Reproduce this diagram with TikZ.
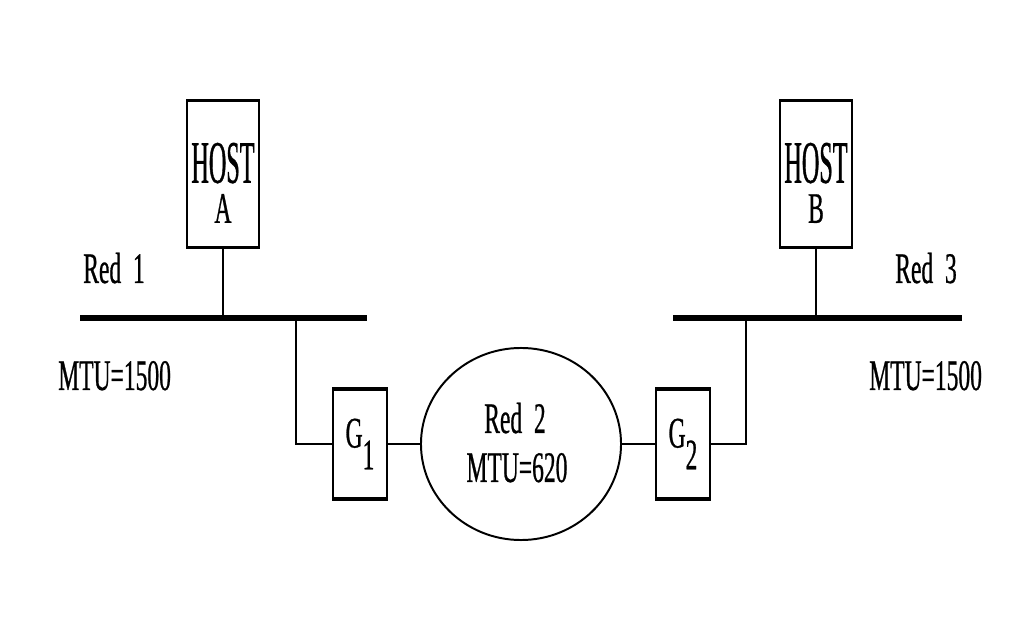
\documentclass[tikz,border=0pt]{standalone}
\usepackage{fontspec}
\usepackage{tikz}
\usetikzlibrary{shapes.geometric}
\newfontfamily\netfont[FakeStretch=0.54,FakeBold=0.6]{Liberation Serif}
\newfontfamily\hostfont[FakeStretch=0.40,FakeBold=0.6]{Liberation Serif}
\tikzset{
  wire/.style={draw=black, line width=1.4pt},
  bus/.style={draw=black, line width=4.3pt},
  hostbox/.style={draw=black, line width=1.4pt, fill=white, inner sep=0pt,
    minimum width=1.8cm, minimum height=3.625cm},
  gatebox/.style={draw=black, line width=1.4pt, fill=white, inner sep=0pt,
    minimum width=1.35cm, minimum height=2.7cm, font=\netfont\fontsize{31}{36}\selectfont},
  cloud/.style={ellipse, draw=black, line width=1.4pt, inner sep=0pt,
    minimum width=5cm, minimum height=4.8cm},
  netlbl/.style={inner sep=0pt, font=\netfont\fontsize{31}{36}\selectfont},
  hostlbl/.style={inner sep=0pt, align=center, anchor=north,
    font=\netfont\fontsize{31}{28.45}\selectfont},
  edge/.style={draw=black, line width=2.6pt}
}
\begin{document}
\begin{tikzpicture}[x=0.025cm, y=-0.025cm]
  \useasboundingbox[fill=white] (0,0) rectangle (1032,628);

  % hosts
  \node[hostbox] (hostA) at (223,174) {};
  \node[hostbox] (hostB) at (816,174) {};
  \node[hostlbl] (hostAl) at (223,142.5) {{\hostfont\fontsize{43}{28.45}\selectfont HOST}\\A};
  \node[hostlbl] (hostBl) at (816,142.5) {{\hostfont\fontsize{43}{28.45}\selectfont HOST}\\B};

  % buses
  \coordinate (r1w) at (80,318);
  \coordinate (r1e) at (367,318);
  \coordinate (r1tap) at (296,318);
  \coordinate (r3w) at (673,318);
  \coordinate (r3e) at (962,318);
  \coordinate (r3tap) at (746,318);
  \draw[bus] (r1w) -- (r1e);
  \draw[bus] (r3w) -- (r3e);

  % gateways and Red 2
  \node[gatebox] (g1) at (360,444) {G\raisebox{-0.5em}{1}};
  \node[gatebox] (g2) at (683,444) {G\raisebox{-0.5em}{2}};
  \node[cloud] (red2) at (521,444) {};
  \node[netlbl, anchor=base] (red2l) at (515,433) {Red\ \ 2};
  \node[netlbl, anchor=base] (red2m) at (517,482) {MTU=620};

  \foreach \n in {hostA,hostB,g1,g2}
    \draw[edge] (\n.north west) -- (\n.north east) (\n.south west) -- (\n.south east);

  % connectors
  \draw[wire] (hostA.south) -- (hostA.south |- r1w);
  \draw[wire] (hostB.south) -- (hostB.south |- r3w);
  \draw[wire] (r1tap) |- (g1.west);
  \draw[wire] (g1.east) -- (red2.west);
  \draw[wire] (red2.east) -- (g2.west);
  \draw[wire] (g2.east) -| (r3tap);

  % network labels
  \node[netlbl, anchor=base west] (red1l) at (83,283) {Red\ \ 1};
  \node[netlbl, anchor=base west] (red3l) at (895,283) {Red\ \ 3};
  \node[netlbl, anchor=base west] (mtu1) at (58,390) {MTU=1500};
  \node[netlbl, anchor=base west] (mtu3) at (869,390) {MTU=1500};
\end{tikzpicture}
\end{document}
